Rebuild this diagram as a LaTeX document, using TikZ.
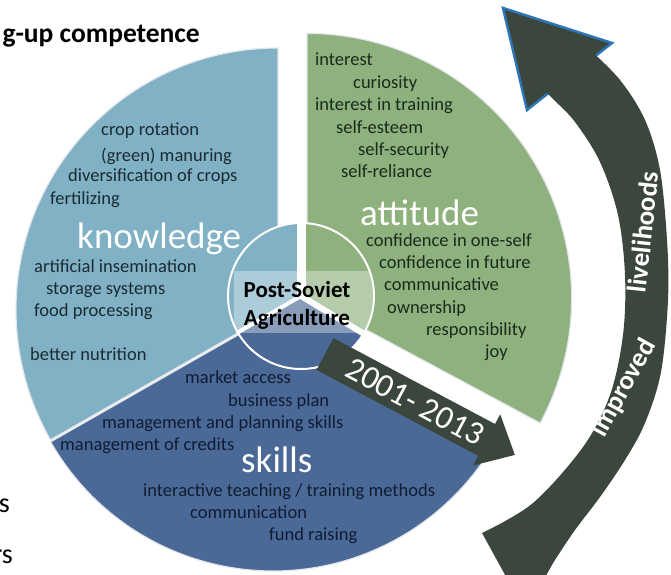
\documentclass[tikz,border=0pt]{standalone}
\usepackage{fontspec}
\setmainfont{Carlito}
\definecolor{kblue}{RGB}{128,177,197}
\definecolor{agreen}{RGB}{142,177,126}
\definecolor{sblue}{RGB}{74,105,150}
\definecolor{darkarr}{RGB}{59,70,61}
\definecolor{arrblue}{RGB}{46,117,182}
\definecolor{ktext}{RGB}{27,43,51}
\definecolor{atext}{RGB}{26,42,28}
\definecolor{stext}{RGB}{15,28,51}
\definecolor{rim}{RGB}{226,230,234}
\tikzset{
  lbl/.style={inner sep=0pt, anchor=base west, font=\fontsize{18.5}{20}\selectfont},
  klbl/.style={lbl, text=ktext},
  albl/.style={lbl, text=atext},
  slbl/.style={lbl, text=stext},
  biglbl/.style={inner sep=0pt, anchor=base west, text=white, font=\fontsize{37}{40}\selectfont},
  bandtxt/.style={inner sep=0pt, text=white, font=\bfseries\fontsize{27}{28}\selectfont},
  sector/.style={draw=rim, line width=1.2pt},
  frag/.style={inner sep=0pt, anchor=base east, font=\fontsize{28}{30}\selectfont},
}
\begin{document}
\begin{tikzpicture}[x=1pt,y=1pt]
\useasboundingbox (0,0) rectangle (671,574);
\clip (0,0) rectangle (671,574);

% improved livelihoods curved arrow
\filldraw[fill=darkarr, draw=arrblue, line width=2.5pt, line join=miter]
  (503,566) -- (612,531) -- (527,464) -- cycle;
\fill[darkarr]
  plot[smooth, tension=0.55] coordinates {(588,526) (620,494) (645,454) (660,404) (667,334) (668,274) (661,202) (645,151) (625,114) (600,77) (575,44) (555,14) (538,-14) (520,-28)}
  -- plot[smooth, tension=0.55] coordinates {(482,41) (533,71) (583,127) (610,179) (623,239) (625,299) (618,359) (600,412) (575,452) (552,476) (538,490)}
  -- cycle;
\node[bandtxt, rotate=84] (liv) at (643,342) {livelihoods};
\node[bandtxt, rotate=61] (imp) at (624,186) {improved};

% big sectors
\fill[kblue, sector] (278,264) -- ++(90:262) arc[start angle=90,end angle=209.7,radius=262] -- cycle;
\fill[agreen, sector] (307,276) -- ++(-28.2:264.6) arc[start angle=-28.2,end angle=90,radius=264.6] -- cycle;
\fill[sblue, sector] (273,259) -- ++(209.7:256) arc[start angle=209.7,end angle=330,radius=256] -- cycle;

% inner pie
\coordinate (c) at (301,278);
\fill[kblue] (c) -- ++(90:73) arc[start angle=90,end angle=210,radius=73] -- cycle;
\fill[agreen] (c) -- ++(-30:73) arc[start angle=-30,end angle=90,radius=73] -- cycle;
\fill[sblue] (c) -- ++(210:73) arc[start angle=210,end angle=330,radius=73] -- cycle;
\draw[white, line width=9pt] (c) -- ++(90:74);
\draw[white, line width=4pt] (c) -- ++(210:74);
\draw[white, line width=6pt] (c) -- ++(-31:74);
\begin{scope}
  \clip (c) circle[radius=72];
  \fill[white, opacity=0.35] (234,303) rectangle (376,241);
\end{scope}
\draw[white, line width=2pt] (c) circle[radius=73];
\node[inner sep=0pt, anchor=base, font=\bfseries\fontsize{23}{25}\selectfont] (ps1) at (297,277) {Post-Soviet};
\node[inner sep=0pt, anchor=base, font=\bfseries\fontsize{23}{25}\selectfont] (ps2) at (297,249) {Agriculture};

% knowledge
\node[klbl] (k1) at (101,438) {crop rotation};
\node[klbl] (k2) at (101,413) {(green) manuring};
\node[klbl] (k3) at (68,392) {diversification of crops};
\node[klbl] (k4) at (50,370) {fertilizing};
\node[biglbl] (kh) at (77,326) {knowledge};
\node[klbl] (k5) at (34,302) {artificial insemination};
\node[klbl] (k6) at (46,280) {storage systems};
\node[klbl] (k7) at (34,258) {food processing};
\node[klbl] (k8) at (30,214) {better nutrition};

% attitude
\node[albl] (a1) at (315,508) {interest};
\node[albl] (a2) at (353,485) {curiosity};
\node[albl] (a3) at (315,463) {interest in training};
\node[albl] (a4) at (336,440) {self-esteem};
\node[albl] (a5) at (358,418) {self-security};
\node[albl] (a6) at (341,396) {self-reliance};
\node[biglbl] (ah) at (360,349) {attitude};
\node[albl] (a7) at (366,328) {confidence in one-self};
\node[albl] (a8) at (379,306) {confidence in future};
\node[albl] (a9) at (384,284) {communicative};
\node[albl] (a10) at (387,261) {ownership};
\node[albl] (a11) at (426,239) {responsibility};
\node[albl] (a12) at (485,217) {joy};

% skills
\node[slbl] (s1) at (185,191) {market access};
\node[slbl] (s2) at (228,168) {business plan};
\node[slbl] (s3) at (102,146) {management and planning skills};
\node[slbl] (s4) at (60,124) {management of credits};
\node[biglbl] (sh) at (241,102) {skills};
\node[slbl] (s5) at (143,78) {interactive teaching / training methods};
\node[slbl] (s6) at (190,56) {communication};
\node[slbl] (s7) at (269,34) {fund raising};

% 2001-2013 arrow
\begin{scope}[shift={(325,220)}, rotate=-28]
  \fill[darkarr] (0,18) -- (183,18) -- (183,29) -- (215,0) -- (183,-29) -- (183,-18) -- (0,-18) -- cycle;
  \node[inner sep=0pt, text=white, rotate=-28, font=\fontsize{33}{35}\selectfont] (yrs) at (102,0) {2001- 2013};
\end{scope}

% title and cut-off fragments
\node[inner sep=0pt, anchor=base east, font=\bfseries\fontsize{27.5}{30}\selectfont] (title) at (200,531) {g-up competence};
\node[frag] (fa) at (10,62) {s};
\node[frag] (fb) at (13,11) {rs};
\end{tikzpicture}
\end{document}
